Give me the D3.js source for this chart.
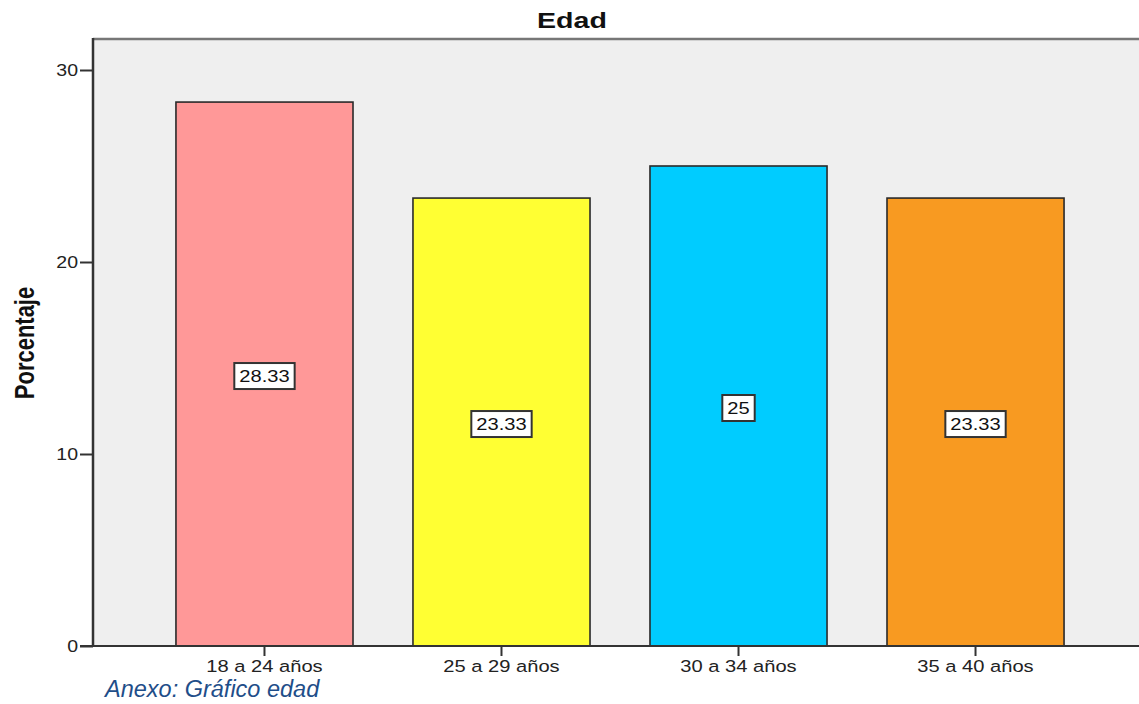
<!DOCTYPE html>
<html>
<head>
<meta charset="utf-8">
<script src="https://cdn.jsdelivr.net/npm/d3@7"></script>
<style>
  body { margin: 0; background: #fff; }
  svg { display: block; font-family: Arial, "Liberation Sans", sans-serif; }
</style>
</head>
<body>
<svg id="chart" width="1139" height="704"></svg>
<script>
// Age distribution (percentage)
const categories = ["18 a 24 años", "25 a 29 años", "30 a 34 años", "35 a 40 años"];
const values = [28.33, 23.33, 25, 23.33];
const barColors = ["#ff9898", "#ffff33", "#00ccff", "#f89a21"];
const yTicks = [0, 10, 20, 30];

const svg = d3.select("#chart");
const plotLeft = 93, plotTop = 39, plotBottom = 646, plotRight = 1147;
const sx = 1.22; // horizontal widening of the chart text

const x = d3.scaleBand().domain(categories).range([plotLeft, plotRight])
  .paddingInner(0.253).paddingOuter(0.35);
const y = d3.scaleLinear().domain([0, 30]).range([plotBottom, 70]);

// plot background
svg.append("rect").attr("x", plotLeft).attr("y", plotTop)
  .attr("width", 1139 - plotLeft).attr("height", plotBottom - plotTop)
  .attr("fill", "#efefef");
svg.append("line").attr("x1", plotLeft).attr("x2", 1139).attr("y1", plotTop).attr("y2", plotTop)
  .attr("stroke", "#777").attr("stroke-width", 2.5);

// bars
svg.selectAll("rect.bar").data(values).join("rect")
  .attr("class", "bar")
  .attr("x", (d, i) => x(categories[i]))
  .attr("y", d => y(d))
  .attr("width", x.bandwidth())
  .attr("height", d => y(0) - y(d))
  .attr("fill", (d, i) => barColors[i])
  .attr("stroke", "#2a2a2a").attr("stroke-width", 1.6);

// y axis
const yAxis = d3.axisLeft(y).tickValues(yTicks).tickSize(13).tickPadding(2).tickFormat(d3.format("d"));
const gy = svg.append("g").attr("transform", `translate(${plotLeft},0)`).call(yAxis);
gy.select(".domain").remove();
gy.selectAll(".tick line").attr("stroke", "#333").attr("stroke-width", 2);
gy.selectAll(".tick text")
  .attr("font-size", 16).attr("fill", "#222")
  .attr("x", -15 / sx).attr("dy", "0.36em")
  .attr("transform", `scale(${sx},1)`);
svg.append("line").attr("x1", plotLeft).attr("x2", plotLeft).attr("y1", plotTop - 1).attr("y2", plotBottom)
  .attr("stroke", "#333").attr("stroke-width", 2.5);

// x axis
const xAxis = d3.axisBottom(x).tickSize(10).tickPadding(4);
const gx = svg.append("g").attr("transform", `translate(0,${plotBottom})`).call(xAxis);
gx.select(".domain").remove();
gx.selectAll(".tick line").attr("stroke", "#333").attr("stroke-width", 2);
gx.selectAll(".tick text")
  .attr("font-size", 16.5).attr("fill", "#222")
  .attr("dy", "0.74em")
  .attr("transform", `scale(${sx},1)`);
svg.append("line").attr("x1", plotLeft - 13).attr("x2", 1139).attr("y1", plotBottom).attr("y2", plotBottom)
  .attr("stroke", "#333").attr("stroke-width", 2);

// value labels
const lbl = svg.selectAll("g.lbl").data(values).join("g")
  .attr("class", "lbl")
  .attr("transform", (d, i) => `translate(${x(categories[i]) + x.bandwidth() / 2},${y(d / 2) + 2})`);
lbl.append("text")
  .attr("text-anchor", "middle").attr("dy", "0.36em")
  .attr("font-size", 16.5).attr("fill", "#111")
  .attr("transform", `scale(${sx},1)`)
  .text(d => String(d));
lbl.each(function() {
  const g = d3.select(this);
  const bb = g.select("text").node().getBBox();
  const w = bb.width * sx + 10;
  g.insert("rect", "text")
    .attr("x", -w / 2).attr("y", -13)
    .attr("width", w).attr("height", 26)
    .attr("fill", "#fff").attr("stroke", "#333").attr("stroke-width", 2);
});

// title
svg.append("text").attr("transform", "translate(572,28) scale(1.3,1)")
  .attr("text-anchor", "middle")
  .attr("font-size", 22).attr("font-weight", "bold").attr("fill", "#111").text("Edad");

// y label
svg.append("text").attr("transform", `translate(34,343) scale(${sx},1) rotate(-90)`)
  .attr("text-anchor", "middle").attr("font-size", 22).attr("font-weight", "bold")
  .attr("fill", "#111").text("Porcentaje");

// caption
svg.append("text").attr("x", 105).attr("y", 697)
  .attr("font-size", 23.5).attr("font-style", "italic").attr("fill", "#1f4e89")
  .text("Anexo: Gráfico edad");
</script>
</body>
</html>
